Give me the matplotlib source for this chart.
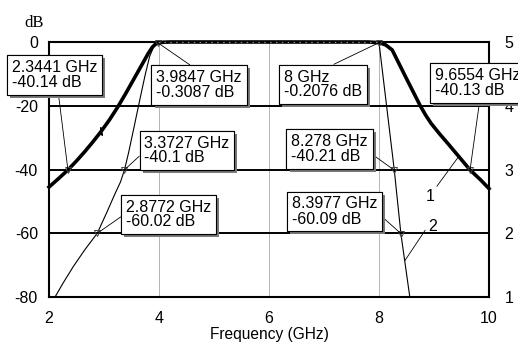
import matplotlib
matplotlib.use("Agg")
import matplotlib.pyplot as plt
import matplotlib.patheffects as pe

plt.rcParams['font.family'] = ['Liberation Sans', 'DejaVu Sans']

# Trace 1: wide-skirt bandpass response (thick)
c1_freq = [2.0, 2.17, 2.3441, 2.5, 2.65, 2.8, 2.95, 3.1, 3.25, 3.4, 3.55, 3.7,
           3.8, 3.88, 3.94, 3.9847, 4.05, 4.2,
           5.0, 6.0, 7.0, 7.8, 8.0, 8.12, 8.24, 8.5, 8.75, 8.85, 8.95, 9.1,
           9.24, 9.45, 9.6554, 9.85, 10.0]
c1_db = [-45.5, -42.9, -40.14, -37.3, -34.4, -31.3, -28.0, -24.4, -20.4, -16.0,
         -11.4, -6.8, -3.7, -1.6, -0.6, -0.3087, -0.1, 0.0,
         0.0, 0.0, 0.0, 0.0, -0.2076, -0.9, -2.5, -11.5, -20.0, -23.0, -25.6,
         -28.8, -31.6, -35.9, -40.13, -43.3, -46.0]

# Trace 2: steep-skirt bandpass response (thin)
c2_freq = [2.11, 2.25, 2.44, 2.65, 2.8772, 3.05, 3.2, 3.3, 3.3727, 3.45, 3.55,
           3.65, 3.75, 3.83, 3.9, 3.9847, 4.2,
           5.0, 6.0, 7.0, 7.8, 8.0, 8.278, 8.3977, 8.56]
c2_db = [-80.0, -75.8, -70.5, -65.2, -60.02, -53.5, -47.6, -43.9, -40.1, -34.5,
         -26.4, -18.2, -10.2, -4.5, -1.6, -0.3087, 0.0,
         0.0, 0.0, 0.0, 0.0, -0.2076, -40.21, -60.09, -80.0]

# Marker readouts
mk_freq = [2.3441, 3.9847, 3.3727, 2.8772, 8.0, 8.278, 9.6554, 8.3977]
mk_db = [-40.14, -0.3087, -40.1, -60.02, -0.2076, -40.21, -40.13, -60.09]
# readout box centres (figure pixels) and leader attachment points on the box
box_xy = [(54.5, 267), (199, 257), (187, 191.5), (168.5, 127.5),
          (323, 257.5), (329.5, 193), (477.5, 259), (334.5, 130.5)]
box_rel = [(0.54, 0.0), (0.48, 1.0), (0.0, 0.47), (0.0, 0.54),
           (0.5, 1.0), (1.0, 0.43), (0.53, 0.0), (1.0, 0.47)]

# Trace identifier ticks
tick_freq = [2.95, 9.24]
tick_db = [-28.0, -31.6]

x_ticks = [2, 4, 6, 8, 10]
y_ticks = [0, -20, -40, -60, -80]
right_ticks = [1, 2, 3, 4, 5]

fig = plt.figure(figsize=(5.18, 3.42), dpi=100)
ax = fig.add_axes([49 / 518, 45 / 342, 440 / 518, 255 / 342])

ax.set_xlim(2, 10)
ax.set_ylim(-80, 0)
ax.set_xticks(x_ticks)
ax.set_xticklabels([str(v) for v in x_ticks])
ax.set_yticks(y_ticks)
ax.set_yticklabels([str(v) for v in y_ticks])
ax.tick_params(axis='both', length=0, labelsize=11.5)
ax.tick_params(axis='y', pad=8)
ax.tick_params(axis='x', pad=10)
ax.set_xlabel('Frequency (GHz)', fontsize=11.2, labelpad=1)

for v in [4, 6, 8]:
    ax.axvline(v, color='#b5b5b5', lw=0.7, zorder=1)
for v in [-20, -40, -60]:
    ax.axhline(v, color='black', lw=1.4, zorder=1)
for s in ax.spines.values():
    s.set_linewidth(1.5)

ax.plot(c2_freq, c2_db, color='black', lw=0.8, zorder=3, clip_on=False)
ax.plot(c1_freq, c1_db, color='black', lw=2.6, zorder=4, clip_on=False,
        solid_joinstyle='round')
# dotted sheen along the passband top
pb = [f for f in c2_freq if 3.9847 <= f <= 8.0]
ax.plot(pb, [0.0] * len(pb), color='#8a8a8a', lw=0.9,
        linestyle=(0, (1.2, 3.5)), zorder=5, clip_on=False)
ax.plot(tick_freq[:1], tick_db[:1], marker=(2, 2, 10), ms=6, color='black',
        mew=0.8, zorder=5, linestyle='none')
ax.plot(tick_freq[1:], tick_db[1:], marker=(2, 2, 50), ms=6, color='black',
        mew=0.8, zorder=5, linestyle='none')
ax.plot(mk_freq, mk_db, linestyle='none', marker='v', ms=4.5, mfc='none',
        mec='#444444', mew=0.7, zorder=6, clip_on=False)

shadow = [pe.withSimplePatchShadow(offset=(2.2, -2.2), shadow_rgbFace='#7a7a7a',
                                   alpha=1.0)]
for f, d, bxy, rel in zip(mk_freq, mk_db, box_xy, box_rel):
    label = f'{f:g} GHz\n{d:g} dB'
    an = ax.annotate(label, xy=(f, d), xycoords='data',
                     xytext=bxy, textcoords='figure pixels',
                     ha='center', va='center', multialignment='left',
                     fontsize=11.5, linespacing=1.0, zorder=10,
                     bbox=dict(boxstyle='square,pad=0.3', fc='white',
                               ec='black', lw=0.8),
                     arrowprops=dict(arrowstyle='-', color='black', lw=0.6,
                                     relpos=rel, shrinkA=0, shrinkB=0),
                     annotation_clip=False)
    an.get_bbox_patch().set_path_effects(shadow + [pe.Normal()])

# trace labels
ax.annotate('1', xy=(9.45, -35.9), xytext=(8.93, -48.5),
            fontsize=11.5, ha='center', va='center', zorder=7,
            arrowprops=dict(arrowstyle='-', color='black', lw=0.6,
                            relpos=(0.9, 0.9), shrinkA=0, shrinkB=0))
ax.annotate('2', xy=(8.47, -68.6), xytext=(8.97, -57.8),
            fontsize=11.5, ha='center', va='center', zorder=7,
            arrowprops=dict(arrowstyle='-', color='black', lw=0.6,
                            relpos=(0.1, 0.6), shrinkA=0, shrinkB=0))

ax2 = ax.twinx()
ax2.set_ylim(1, 5)
ax2.set_yticks(right_ticks)
ax2.set_yticklabels([str(v) for v in right_ticks])
ax2.tick_params(axis='y', length=0, labelsize=11.5, pad=11)
for s in ax2.spines.values():
    s.set_visible(False)
ax2.set_zorder(ax.get_zorder() - 1)
ax.set_facecolor('none')

fig.text(34 / 518, 1 - 23 / 342, 'dB', family='Liberation Serif', fontsize=12,
         ha='center', va='center')

fig.savefig('out.png', dpi=100)
